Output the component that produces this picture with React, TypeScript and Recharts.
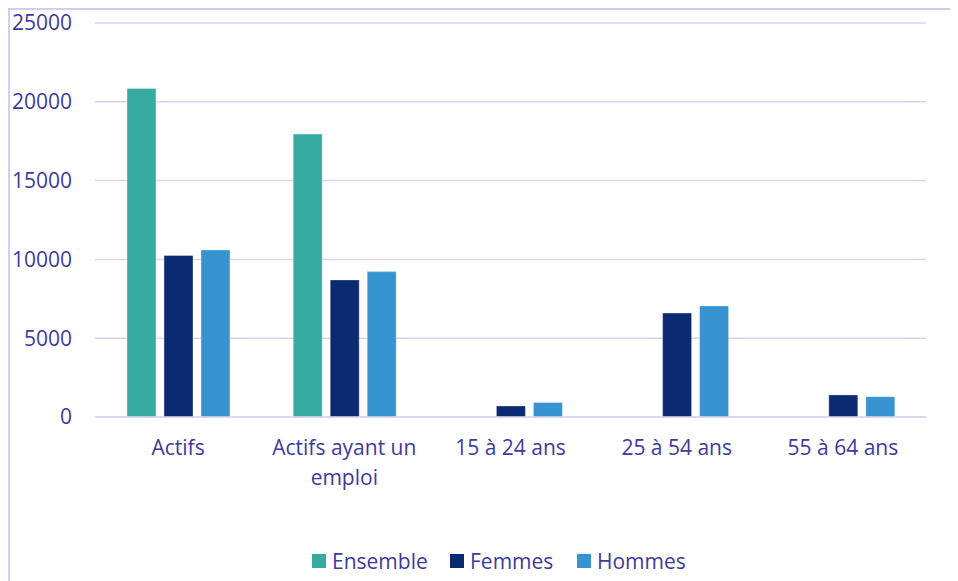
import { Bar, BarChart, CartesianGrid, Legend, XAxis, YAxis } from "recharts";

const categories = ["Actifs", "Actifs ayant un emploi", "15 à 24 ans", "25 à 54 ans", "55 à 64 ans"];
const ensemble: (number | null)[] = [20850, 17950, null, null, null];
const femmes = [10250, 8700, 700, 6600, 1400];
const hommes = [10600, 9225, 920, 7050, 1290];
const yTicks = [0, 5000, 10000, 15000, 20000, 25000];

const series = [
  { key: "ensemble", name: "Ensemble", color: "#35ABA2", width: 138 },
  { key: "femmes", name: "Femmes", color: "#0B2A72", width: 127 },
  { key: "hommes", name: "Hommes", color: "#3894D1", width: 120 },
];

const data = categories.map((c, i) => ({
  category: c,
  ensemble: ensemble[i],
  femmes: femmes[i],
  hommes: hommes[i],
}));

const TEXT = "#3E3A9E";
const GRID = "#D8D4F1";
const FONT = "'Open Sans', sans-serif";

const wrap = (label: string, max = 16): string[] => {
  const lines: string[] = [];
  let cur = "";
  for (const w of label.split(" ")) {
    const next = cur ? `${cur} ${w}` : w;
    if (next.length > max && cur) {
      lines.push(cur);
      cur = w;
    } else {
      cur = next;
    }
  }
  if (cur) lines.push(cur);
  return lines;
};

const CategoryTick = (props: any) => {
  const { x, y, payload } = props;
  const lines = wrap(String(payload.value));
  return (
    <text x={x} y={y} textAnchor="middle" fill={TEXT} fontSize={21} fontFamily={FONT}>
      {lines.map((l, i) => (
        <tspan key={i} x={x} dy={i === 0 ? 15 : 30}>
          {l}
        </tspan>
      ))}
    </text>
  );
};

const LegendContent = () => (
  <div
    style={{
      display: "flex",
      height: 24,
      alignItems: "center",
      paddingLeft: 304,
      fontFamily: FONT,
      fontSize: 21,
      color: TEXT,
    }}
  >
    {series.map((s) => (
      <div key={s.key} style={{ width: s.width, display: "flex", alignItems: "center" }}>
        <span style={{ width: 14, height: 14, background: s.color, marginRight: 6, display: "inline-block" }} />
        <span>{s.name}</span>
      </div>
    ))}
  </div>
);

export default function App() {
  return (
    <div style={{ position: "relative", width: 950, height: 573 }}>
      <BarChart
        width={950}
        height={573}
        data={data}
        margin={{ top: 15, right: 32, bottom: 0, left: 0 }}
        barSize={29}
        barGap={8}
      >
        <CartesianGrid horizontal vertical={false} stroke={GRID} strokeWidth={1.5} />
        <XAxis
          dataKey="category"
          height={140}
          tick={<CategoryTick />}
          tickLine={false}
          tickSize={0}
          tickMargin={23}
          axisLine={{ stroke: GRID, strokeWidth: 1.5 }}
          interval={0}
        />
        <YAxis
          width={87}
          domain={[0, 25000]}
          ticks={yTicks}
          axisLine={false}
          tickLine={false}
          tickSize={0}
          tickMargin={23}
          tick={{ fill: TEXT, fontSize: 21, fontFamily: FONT }}
        />
        <Legend verticalAlign="bottom" content={<LegendContent />} wrapperStyle={{ bottom: 8, left: 0, width: 950 }} />
        {series.map((s) => (
          <Bar
            key={s.key}
            dataKey={s.key}
            name={s.name}
            fill={s.color}
            stroke="#ffffff"
            strokeOpacity={0.35}
            isAnimationActive={false}
          />
        ))}
      </BarChart>
      <div
        style={{
          position: "absolute",
          left: 0,
          top: 0,
          width: 950,
          height: 573,
          borderLeft: "2px solid #D2CEF0",
          borderTop: "2px solid #D2CEF0",
          boxSizing: "border-box",
          pointerEvents: "none",
        }}
      />
    </div>
  );
}
